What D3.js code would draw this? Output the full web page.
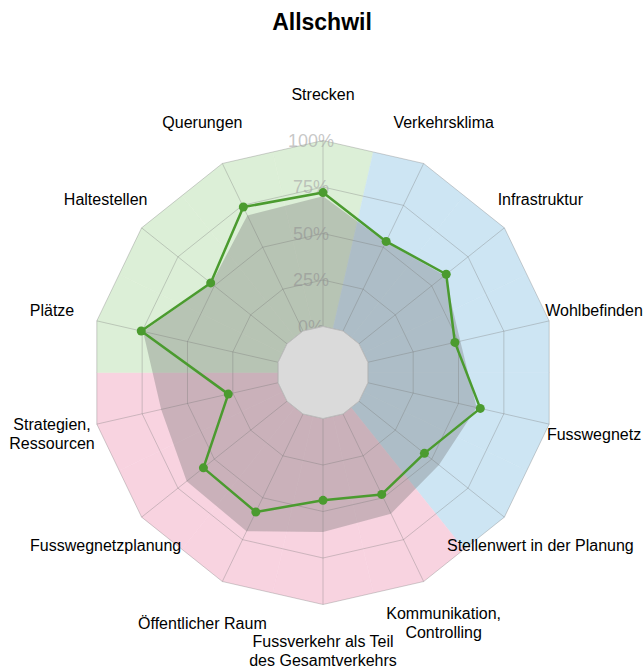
<!DOCTYPE html>
<html>
<head>
<meta charset="utf-8">
<script src="https://cdn.jsdelivr.net/npm/d3@7"></script>
<style>
  body { margin: 0; background: #fff; }
  svg { display: block; font-family: "Liberation Sans", Arial, Helvetica, sans-serif; }
</style>
</head>
<body>
<svg id="chart" width="643" height="668"></svg>
<script>
// axes, clockwise from the top
const categories = [
  'Strecken', 'Verkehrsklima', 'Infrastruktur', 'Wohlbefinden', 'Fusswegnetz',
  'Stellenwert in der Planung', 'Kommunikation,\nControlling', 'Fussverkehr als Teil\ndes Gesamtverkehrs',
  'Öffentlicher Raum', 'Fusswegnetzplanung', 'Strategien,\nRessourcen', 'Plätze', 'Haltestellen', 'Querungen'
];
// which thematic group each axis belongs to (0 green, 1 blue, 2 pink)
const groupIndex = [0, 1, 1, 1, 1, 1, 2, 2, 2, 2, 2, 0, 0, 0];
// Allschwil (green line)
const allschwil = [0.72, 0.535, 0.60, 0.48, 0.62, 0.45, 0.48, 0.44, 0.585, 0.575, 0.275, 0.755, 0.525, 0.74];
// comparison (grey area)
const comparison = [0.70, 0.53, 0.59, 0.51, 0.60, 0.55, 0.595, 0.61, 0.70, 0.69, 0.645, 0.745, 0.52, 0.69];
const ticks = [0, 0.25, 0.5, 0.75, 1];
const tickLabels = ['0%', '25%', '50%', '75%', '100%'];
const title = 'Allschwil';

const groupColors = ['#dcefd7', '#cde5f3', '#f8d3e0'];

const svg = d3.select('#chart');
const cx = 323, cy = 372.5;
const r0 = 46, R = 232;
const n = categories.length;
const step = 2 * Math.PI / n;

const rScale = d3.scaleLinear().domain([0, 1]).range([r0, R]);
const angle = i => i * step;

svg.append('text')
    .attr('x', 322)
    .attr('y', 30)
    .attr('text-anchor', 'middle')
    .attr('font-size', 23)
    .attr('font-weight', 'bold')
    .attr('fill', '#000')
    .text(title);

const g = svg.append('g').attr('transform', `translate(${cx},${cy})`);

const ring = d3.lineRadial()
    .angle((d, i) => angle(i))
    .radius(d => d)
    .curve(d3.curveLinearClosed);

// clip to the outer polygon
svg.append('defs').append('clipPath').attr('id', 'outer')
  .append('path')
    .attr('d', ring(d3.range(n).map(() => R)));

const bg = g.append('g').attr('clip-path', 'url(#outer)');
const sector = d3.arc().innerRadius(0).outerRadius(R * 1.3);
bg.selectAll('path')
  .data(categories)
  .join('path')
    .attr('d', (d, i) => sector({startAngle: angle(i) - step / 2, endAngle: angle(i) + step / 2}))
    .attr('fill', (d, i) => groupColors[groupIndex[i]])
    .attr('stroke', (d, i) => groupColors[groupIndex[i]])
    .attr('stroke-width', 0.5);

// grid
const grid = g.append('g')
    .attr('fill', 'none')
    .attr('stroke', '#7a7a7a')
    .attr('stroke-opacity', 0.35)
    .attr('stroke-width', 1);
grid.selectAll('path')
  .data(ticks)
  .join('path')
    .attr('d', t => ring(d3.range(n).map(() => rScale(t))));
grid.selectAll('line')
  .data(categories)
  .join('line')
    .attr('x1', (d, i) => rScale(0) * Math.sin(angle(i)))
    .attr('y1', (d, i) => -rScale(0) * Math.cos(angle(i)))
    .attr('x2', (d, i) => R * Math.sin(angle(i)))
    .attr('y2', (d, i) => -R * Math.cos(angle(i)));

// tick labels along the first axis
g.append('g')
  .selectAll('text')
  .data(ticks)
  .join('text')
    .attr('x', -12)
    .attr('y', t => -rScale(t))
    .attr('dy', '0.35em')
    .attr('text-anchor', 'middle')
    .attr('font-size', 18)
    .attr('fill', '#a8a8a8')
    .attr('fill-opacity', 0.65)
    .text((t, i) => tickLabels[i]);

// comparison area
const area = d3.areaRadial()
    .angle((d, i) => angle(i))
    .innerRadius(0)
    .outerRadius(d => rScale(d))
    .curve(d3.curveLinearClosed);
g.append('path')
    .attr('d', area(comparison))
    .attr('fill', '#6e6e6e')
    .attr('fill-opacity', 0.33);

// inner hole
g.append('path')
    .attr('d', ring(d3.range(n).map(() => r0)))
    .attr('fill', '#dadada')
    .attr('stroke', '#bdbdbd')
    .attr('stroke-width', 1);

// Allschwil line
const line = d3.lineRadial()
    .angle((d, i) => angle(i))
    .radius(d => rScale(d))
    .curve(d3.curveLinearClosed);
g.append('path')
    .attr('d', line(allschwil))
    .attr('fill', 'none')
    .attr('stroke', '#4b9b2f')
    .attr('stroke-width', 2.5)
    .attr('stroke-linejoin', 'round');
g.append('g')
  .selectAll('circle')
  .data(allschwil)
  .join('circle')
    .attr('cx', (d, i) => rScale(d) * Math.sin(angle(i)))
    .attr('cy', (d, i) => -rScale(d) * Math.cos(angle(i)))
    .attr('r', 4.5)
    .attr('fill', '#4b9b2f');

// axis labels
const labelR = 278;
const lineH = 19;
const labels = g.append('g')
  .selectAll('text')
  .data(categories)
  .join('text')
    .attr('font-size', 16)
    .attr('fill', '#000')
    .attr('text-anchor', 'middle')
    .attr('x', (d, i) => labelR * Math.sin(angle(i)))
    .attr('y', (d, i) => -labelR * Math.cos(angle(i)));
labels.each(function(d) {
  const lines = d.split('\n');
  const x = d3.select(this).attr('x');
  d3.select(this).selectAll('tspan')
    .data(lines)
    .join('tspan')
      .attr('x', x)
      .attr('dy', (l, j) => j === 0 ? `${0.35 * 16 - (lines.length - 1) * lineH / 2}px` : `${lineH}px`)
      .text(l => l);
});
</script>
</body>
</html>
